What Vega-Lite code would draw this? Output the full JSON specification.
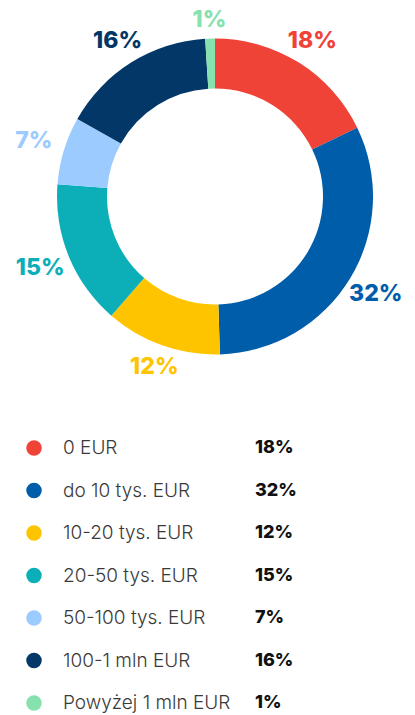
{
  "$schema": "https://vega.github.io/schema/vega-lite/v6.json",
  "padding": {"left": 15, "top": 0, "right": 0, "bottom": 0},
  "spacing": 0,
  "background": "white",
  "config": {"view": {"stroke": null}, "font": "Inter"},
  "data": {"values": [
    {"order": 1, "category": "0 EUR", "value": 18, "label": "18%"},
    {"order": 2, "category": "do 10 tys. EUR", "value": 32, "label": "32%"},
    {"order": 3, "category": "10-20 tys. EUR", "value": 12, "label": "12%"},
    {"order": 4, "category": "20-50 tys. EUR", "value": 15, "label": "15%"},
    {"order": 5, "category": "50-100 tys. EUR", "value": 7, "label": "7%"},
    {"order": 6, "category": "100-1 mln EUR", "value": 16, "label": "16%"},
    {"order": 7, "category": "Powyżej 1 mln EUR", "value": 1, "label": "1%"}
  ]},
  "vconcat": [
    {
      "width": 400,
      "height": 393,
      "encoding": {
        "theta": {"field": "value", "type": "quantitative", "stack": true},
        "order": {"field": "order", "type": "quantitative"},
        "color": {
          "field": "category", "type": "nominal", "legend": null,
          "scale": {
            "domain": ["0 EUR", "do 10 tys. EUR", "10-20 tys. EUR", "20-50 tys. EUR", "50-100 tys. EUR", "100-1 mln EUR", "Powyżej 1 mln EUR"],
            "range": ["#EF4338", "#005DAA", "#FFC400", "#0CAFB7", "#9CCBFF", "#033767", "#86E1AE"]
          }
        }
      },
      "layer": [
        {"mark": {"type": "arc", "innerRadius": 108, "outerRadius": 158}},
        {"mark": {"type": "text", "radius": {"expr": "176 + 14 * abs(sin(PI * (datum.value_start + datum.value_end) / 101))"}, "fontSize": 23, "fontWeight": 800, "align": "center", "baseline": "middle"},
         "encoding": {"text": {"field": "label", "type": "nominal"}}}
      ]
    },
    {
      "width": 400,
      "height": 322,
      "encoding": {
        "y": {"field": "category", "type": "nominal", "sort": null, "axis": null,
              "scale": {"type": "point", "range": [55, 310], "padding": 0}}
      },
      "layer": [
        {"mark": {"type": "point", "filled": true, "opacity": 1, "size": 240, "shape": "circle"},
         "encoding": {
           "x": {"datum": 19, "type": "quantitative", "axis": null, "scale": {"domain": [0, 400], "range": [0, 400], "zero": false, "nice": false}},
           "color": {
             "field": "category", "type": "nominal", "legend": null,
             "scale": {
               "domain": ["0 EUR", "do 10 tys. EUR", "10-20 tys. EUR", "20-50 tys. EUR", "50-100 tys. EUR", "100-1 mln EUR", "Powyżej 1 mln EUR"],
               "range": ["#EF4338", "#005DAA", "#FFC400", "#0CAFB7", "#9CCBFF", "#033767", "#86E1AE"]
             }
           }
         }},
        {"mark": {"type": "text", "align": "left", "baseline": "middle", "fontSize": 19, "fontWeight": 300, "color": "#3a3a3a"},
         "encoding": {
           "x": {"datum": 48, "type": "quantitative", "axis": null, "scale": {"domain": [0, 400], "range": [0, 400], "zero": false, "nice": false}},
           "text": {"field": "category", "type": "nominal"}
         }},
        {"mark": {"type": "text", "align": "left", "baseline": "middle", "fontSize": 18, "fontWeight": 800, "color": "#111111"},
         "encoding": {
           "x": {"datum": 240, "type": "quantitative", "axis": null, "scale": {"domain": [0, 400], "range": [0, 400], "zero": false, "nice": false}},
           "text": {"field": "label", "type": "nominal"}
         }}
      ]
    }
  ]
}
